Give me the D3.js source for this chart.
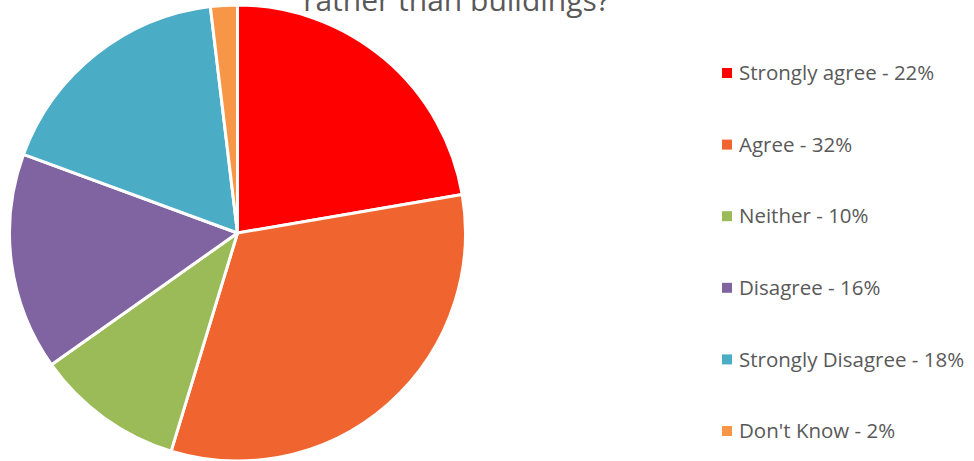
<!DOCTYPE html>
<html>
<head>
<meta charset="utf-8">
<script src="https://cdn.jsdelivr.net/npm/d3@7"></script>
<style>
  html, body { margin: 0; padding: 0; background: #fff; }
  svg { display: block; }
</style>
</head>
<body>
<svg id="chart" width="974" height="461"></svg>
<script>
const categories = ["Strongly agree", "Agree", "Neither", "Disagree", "Strongly Disagree", "Don't Know"];
// slice sizes (angles), legend percentages as printed
const values = [22.3, 32.4, 10.5, 15.4, 17.5, 1.9];
const labelPercents = [22, 32, 10, 16, 18, 2];
const colors = ["#FF0000", "#F0652F", "#9BBB59", "#8064A2", "#4BACC6", "#F79646"];
const titleText = "rather than buildings?";

const svg = d3.select("#chart");
const cx = 237.5, cy = 233, R = 228;

const data = categories.map((c, i) => ({ name: c, value: values[i], pct: labelPercents[i], color: colors[i] }));

const pie = d3.pie().sort(null).value(d => d.value);
const arc = d3.arc().innerRadius(0).outerRadius(R);

const g = svg.append("g").attr("transform", `translate(${cx},${cy})`);
g.selectAll("path")
  .data(pie(data))
  .join("path")
  .attr("d", arc)
  .attr("fill", d => d.data.color)
  .attr("stroke", "#fff")
  .attr("stroke-width", 3)
  .attr("stroke-linejoin", "round");

// title (cut at top, as in reference)
svg.append("text")
  .attr("x", 456.5)
  .attr("y", 11)
  .attr("text-anchor", "middle")
  .attr("font-family", "'Open Sans', sans-serif")
  .attr("font-size", 30)
  .attr("fill", "#595959")
  .text(titleText);

// legend
const legendY = d3.scalePoint().domain(categories).range([73, 431]);
const items = svg.append("g").selectAll("g").data(data).join("g")
  .attr("transform", d => `translate(722,${legendY(d.name)})`);
items.append("rect")
  .attr("x", 0).attr("y", -5).attr("width", 10).attr("height", 10)
  .attr("fill", d => d.color);
items.append("text")
  .attr("x", 17).attr("y", 0)
  .attr("dy", "0.35em")
  .attr("font-family", "'Open Sans', sans-serif")
  .attr("font-size", 20.5)
  .attr("fill", "#595959")
  .text(d => `${d.name} - ${d.pct}%`);
</script>
</body>
</html>
